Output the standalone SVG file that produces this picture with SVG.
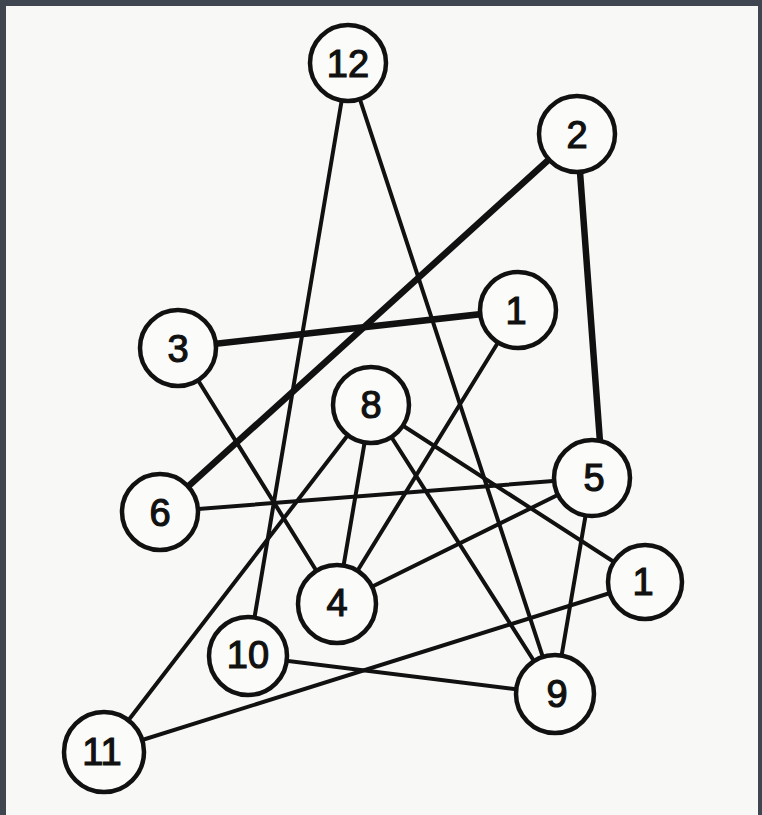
<svg xmlns="http://www.w3.org/2000/svg" width="762" height="815" viewBox="0 0 762 815">
<style>
.bg{fill:#f8f8f6}
.frame{fill:#3f4650}
.node circle{fill:#fbfbf9;stroke:#111;stroke-width:4.5}
.node text{font-family:"Liberation Sans","DejaVu Sans",sans-serif;font-size:38px;fill:#111;stroke:#111;stroke-width:1.2;text-anchor:middle;dominant-baseline:central}
.edge{stroke:#111;stroke-width:4;stroke-linecap:round;fill:none}
.thick{stroke-width:6.5}
</style>
<rect class="bg" x="0" y="0" width="762" height="815"/>
<rect class="frame" x="0" y="0" width="762" height="6"/>
<rect class="frame" x="0" y="0" width="6" height="815"/>
<rect class="frame" x="758" y="0" width="4" height="815"/>
<g id="connectors">
<line class="edge" x1="348" y1="63" x2="248" y2="656"/>
<line class="edge" x1="348" y1="63" x2="555" y2="694"/>
<line class="edge thick" x1="577" y1="134" x2="160" y2="512"/>
<line class="edge thick" x1="580" y1="172" x2="600" y2="442"/>
<line class="edge thick" x1="178" y1="348" x2="518" y2="310"/>
<line class="edge" x1="178" y1="348" x2="337" y2="604"/>
<line class="edge" x1="518" y1="310" x2="337" y2="604"/>
<line class="edge" x1="371" y1="405" x2="337" y2="604"/>
<line class="edge" x1="371" y1="405" x2="104" y2="752"/>
<line class="edge" x1="371" y1="405" x2="555" y2="694"/>
<line class="edge" x1="371" y1="405" x2="645" y2="582"/>
<line class="edge" x1="160" y1="512" x2="592" y2="478"/>
<line class="edge" x1="592" y1="478" x2="337" y2="604"/>
<line class="edge" x1="592" y1="478" x2="555" y2="694"/>
<line class="edge" x1="645" y1="582" x2="104" y2="752"/>
<line class="edge" x1="248" y1="656" x2="555" y2="694"/>
</g>
<g id="n12" class="node"><circle cx="348" cy="63" r="38"/><text x="348" y="64">12</text></g>
<g id="n2" class="node"><circle cx="577" cy="134" r="38"/><text x="577" y="135">2</text></g>
<g id="n1a" class="node"><circle cx="518" cy="310" r="38"/><text x="516" y="311">1</text></g>
<g id="n3" class="node"><circle cx="178" cy="348" r="38"/><text x="178" y="349">3</text></g>
<g id="n8" class="node"><circle cx="371" cy="405" r="38"/><text x="371" y="405">8</text></g>
<g id="n6" class="node"><circle cx="160" cy="512" r="38"/><text x="160" y="513">6</text></g>
<g id="n5" class="node"><circle cx="592" cy="478" r="38"/><text x="594" y="478">5</text></g>
<g id="n1b" class="node"><circle cx="645" cy="582" r="37"/><text x="643" y="582">1</text></g>
<g id="n4" class="node"><circle cx="337" cy="604" r="39"/><text x="337" y="603">4</text></g>
<g id="n10" class="node"><circle cx="248" cy="656" r="39"/><text x="248" y="655">10</text></g>
<g id="n9" class="node"><circle cx="555" cy="694" r="39"/><text x="557" y="694">9</text></g>
<g id="n11" class="node"><circle cx="104" cy="752" r="40"/><text x="102" y="752">11</text></g>
</svg>
